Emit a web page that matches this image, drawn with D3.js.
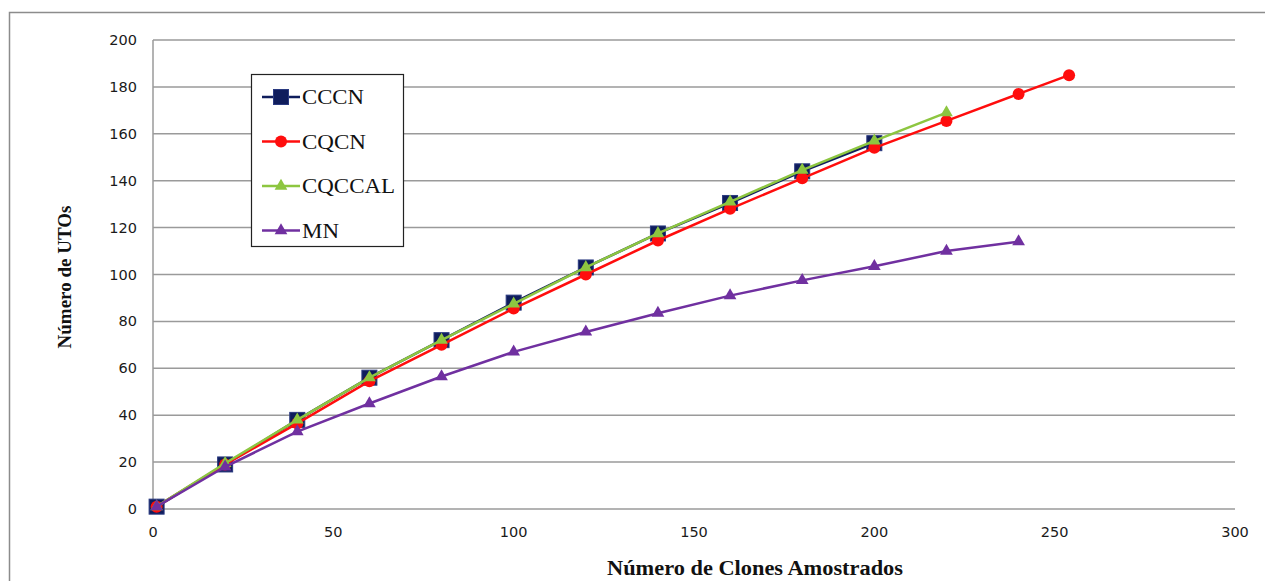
<!DOCTYPE html>
<html>
<head>
<meta charset="utf-8">
<script src="https://cdn.jsdelivr.net/npm/d3@7"></script>
<style>
  body { margin: 0; background: #fff; }
  svg { display: block; }
</style>
</head>
<body>
<div id="chart"></div>
<script>
const W = 1265
const H = 581
const margin = { top: 40, left: 153, right: 30, bottom: 72 }

// data
const clonesCCCN = [1, 20, 40, 60, 80, 100, 120, 140, 160, 180, 200]
const utosCCCN = [1, 19, 38, 56, 72, 88, 103, 117.5, 130.5, 144, 156]
const clonesCQCN = [1, 20, 40, 60, 80, 100, 120, 140, 160, 180, 200, 220, 240, 254]
const utosCQCN = [1, 19, 36.5, 54.5, 70, 85.5, 100, 114.5, 128, 141, 154, 165.5, 177, 185]
const clonesCQCCAL = [1, 20, 40, 60, 80, 100, 120, 140, 160, 180, 200, 220]
const utosCQCCAL = [1, 19.5, 38, 56, 72, 87.5, 103, 117.5, 131, 144.5, 157, 169]
const clonesMN = [1, 20, 40, 60, 80, 100, 120, 140, 160, 180, 200, 220, 240]
const utosMN = [1, 18, 33, 45, 56.5, 67, 75.5, 83.5, 91, 97.5, 103.5, 110, 114]

const xTicks = [0, 50, 100, 150, 200, 250, 300]
const yTicks = [0, 20, 40, 60, 80, 100, 120, 140, 160, 180, 200]

const series = [
  { name: 'CCCN', x: clonesCCCN, y: utosCCCN, color: '#0f1d5c', marker: 'square', w: 62 },
  { name: 'CQCN', x: clonesCQCN, y: utosCQCN, color: '#ff0d0d', marker: 'circle', w: 64 },
  { name: 'CQCCAL', x: clonesCQCCAL, y: utosCQCCAL, color: '#8dc640', marker: 'triangle', w: 93 },
  { name: 'MN', x: clonesMN, y: utosMN, color: '#7030a0', marker: 'triangle', w: 37 }
]

const svg = d3.select('#chart').append('svg')
  .attr('width', W)
  .attr('height', H)

// outer frame, runs off the right and bottom
svg.append('rect')
  .attr('x', 9.5).attr('y', 12.5)
  .attr('width', W + 10).attr('height', H + 10)
  .attr('fill', 'none')
  .attr('stroke', '#8c8c8c')
  .attr('stroke-width', 1.5)

const xScale = d3.scaleLinear().domain([0, 300]).range([margin.left, W - margin.right])
const yScale = d3.scaleLinear().domain([0, 200]).range([H - margin.bottom, margin.top])

// gridlines
svg.append('g')
  .selectAll('line')
  .data(yTicks)
  .enter()
  .append('line')
  .attr('x1', xScale(0))
  .attr('x2', xScale(300))
  .attr('y1', d => yScale(d))
  .attr('y2', d => yScale(d))
  .attr('stroke', '#9a9a9a')
  .attr('stroke-width', 1.5)

// y axis line
svg.append('line')
  .attr('x1', xScale(0)).attr('x2', xScale(0))
  .attr('y1', yScale(0)).attr('y2', yScale(200))
  .attr('stroke', '#9a9a9a')
  .attr('stroke-width', 1.5)

const tickFont = 'DejaVu Sans, Verdana, sans-serif'

svg.append('g')
  .selectAll('text')
  .data(yTicks)
  .enter()
  .append('text')
  .text(d => d)
  .attr('x', xScale(0) - 16)
  .attr('y', d => yScale(d))
  .attr('dy', '0.35em')
  .attr('text-anchor', 'end')
  .attr('font-family', tickFont)
  .attr('font-size', 14.5)
  .attr('fill', '#1a1a1a')

svg.append('g')
  .selectAll('text')
  .data(xTicks)
  .enter()
  .append('text')
  .text(d => d)
  .attr('x', d => xScale(d))
  .attr('y', yScale(0) + 28)
  .attr('text-anchor', 'middle')
  .attr('font-family', tickFont)
  .attr('font-size', 14.5)
  .attr('fill', '#1a1a1a')

// axis titles
svg.append('text')
  .text('Número de Clones Amostrados')
  .attr('x', 755)
  .attr('y', 575)
  .attr('text-anchor', 'middle')
  .attr('font-family', 'Liberation Serif, Times New Roman, serif')
  .attr('font-weight', 'bold')
  .attr('font-size', 20)
  .attr('textLength', 296)
  .attr('lengthAdjust', 'spacingAndGlyphs')
  .attr('fill', '#111')

svg.append('text')
  .text('Número de UTOs')
  .attr('transform', 'translate(71,' + 277 + ') rotate(-90)')
  .attr('text-anchor', 'middle')
  .attr('font-family', 'Liberation Serif, Times New Roman, serif')
  .attr('font-weight', 'bold')
  .attr('font-size', 19)
  .attr('fill', '#111')

const line = d3.line()
  .x(d => xScale(d[0]))
  .y(d => yScale(d[1]))

function drawMarker(g, type, color) {
  if (type === 'square') {
    g.append('rect')
      .attr('x', -7.5).attr('y', -7.5)
      .attr('width', 15).attr('height', 15)
      .attr('fill', color)
      .attr('stroke', '#2a3a80')
      .attr('stroke-width', 1)
  } else if (type === 'circle') {
    g.append('circle').attr('r', 6).attr('fill', color)
  } else {
    g.append('path')
      .attr('d', d3.symbol().type(d3.symbolTriangle).size(70)())
      .attr('fill', color)
  }
}

series.forEach(s => {
  const pts = s.x.map((x, i) => [x, s.y[i]])
  const g = svg.append('g')
  g.append('path')
    .datum(pts)
    .attr('d', line)
    .attr('fill', 'none')
    .attr('stroke', s.color)
    .attr('stroke-width', 2.5)

  g.selectAll('.pt')
    .data(pts)
    .enter()
    .append('g')
    .attr('class', 'pt')
    .attr('transform', d => `translate(${xScale(d[0])},${yScale(d[1])})`)
    .each(function() { drawMarker(d3.select(this), s.marker, s.color) })
})

// legend
const legend = svg.append('g').attr('transform', 'translate(251,74)')
legend.append('rect')
  .attr('x', 0.5).attr('y', 0.5)
  .attr('width', 152).attr('height', 172)
  .attr('fill', '#fff')
  .attr('stroke', '#222')
  .attr('stroke-width', 1.2)

series.forEach((s, i) => {
  const row = legend.append('g').attr('transform', `translate(0,${23 + i * 44.5})`)
  row.append('line')
    .attr('x1', 11).attr('x2', 49)
    .attr('stroke', s.color)
    .attr('stroke-width', 2.5)
  const m = row.append('g').attr('transform', 'translate(30,0)')
  drawMarker(m, s.marker, s.color)
  row.append('text')
    .text(s.name)
    .attr('x', 51)
    .attr('dy', '0.35em')
    .attr('font-family', 'Liberation Serif, Times New Roman, serif')
    .attr('font-size', 20)
    .attr('textLength', s.w)
    .attr('lengthAdjust', 'spacingAndGlyphs')
    .attr('fill', '#111')
})
</script>
</body>
</html>
